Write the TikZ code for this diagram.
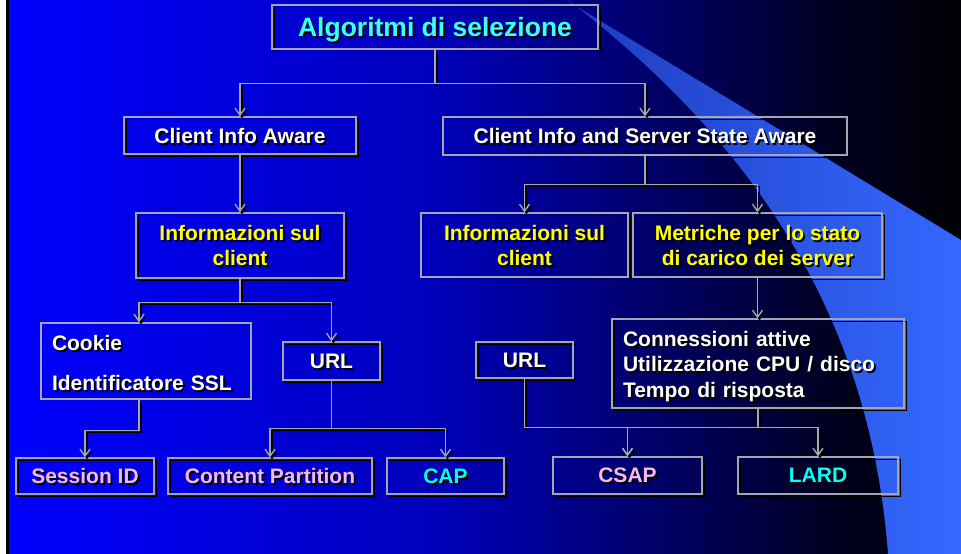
\documentclass[tikz,border=0pt]{standalone}
\usepackage{fontspec}
\setmainfont{Liberation Sans}
\usetikzlibrary{arrows.meta,calc}

\definecolor{wire}{RGB}{165,165,178}
\definecolor{ttl}{RGB}{60,255,255}
\definecolor{hl}{RGB}{255,255,0}
\definecolor{pk}{RGB}{245,185,245}
\definecolor{cy}{RGB}{0,255,255}
\definecolor{swL}{RGB}{30,60,190}
\definecolor{swR}{RGB}{52,104,255}

% background: bright blue on the left fading to black on the right
\pgfdeclarehorizontalshading{bgshade}{100bp}{rgb(0bp)=(0,0,1); rgb(25bp)=(0,0,1);
  rgb(47.5bp)=(0,0,0.73); rgb(57.5bp)=(0,0,0.45); rgb(68.5bp)=(0,0,0.12);
  rgb(75bp)=(0,0,0.02); rgb(100bp)=(0,0,0.02)}

% text with a black drop shadow
\newcommand\shtxt[2]{\leavevmode\rlap{\kern1.9pt\raisebox{-1.9pt}{\color{black}#2}}{\color{#1}#2}}

\begin{document}
\begin{tikzpicture}[x=1pt,y=-1pt,
  box/.style={draw=wire, line width=1.3pt, inner sep=0pt, text depth=0pt,
    font=\bfseries\fontsize{21}{25}\selectfont,
    preaction={draw=black, line width=1.7pt,
      transform canvas={xshift=2.5pt,yshift=-2.5pt}}},
  arr/.style={-{Straight Barb[length=7pt,width=10pt,line width=1.4pt]}}]

\useasboundingbox (0,0) rectangle (961,554);

% page background
\fill[white] (0,0) rectangle (961,554);
\fill[black] (6,0) rectangle (9,554);
\shade[shading=bgshade] (9,0) rectangle (961,554);

% light blue sweep on the right
\shade[left color=swL, right color=swR]
  (566,0) -- (961,240) -- (961,554) -- (888,554)
  .. controls (872,340) and (775,160) .. (572,3) -- cycle;

% boxes
\node[box, minimum width=326pt, minimum height=44pt,
      font=\bfseries\fontsize{26.5}{30}\selectfont] (t) at (435,27)
  {\shtxt{ttl}{Algoritmi di selezione}};

\node[box, minimum width=232pt, minimum height=37pt] (cia) at (240,135.5)
  {\shtxt{white}{Client Info Aware}};
\node[box, minimum width=404pt, minimum height=38pt] (ciss) at (645,136)
  {\shtxt{white}{Client Info and Server State Aware}};

\node[box, minimum width=208pt, minimum height=65pt, align=center] (il) at (240,245.5)
  {\shtxt{hl}{Informazioni sul}\\\shtxt{hl}{client}};
\node[box, minimum width=207pt, minimum height=64pt, align=center] (ir) at (524.5,245)
  {\shtxt{hl}{Informazioni sul}\\\shtxt{hl}{client}};
\node[box, minimum width=249pt, minimum height=64pt, align=center] (met) at (757.5,245)
  {\shtxt{hl}{Metriche per lo stato}\\\shtxt{hl}{di carico dei server}};

% left-aligned lists: depth spans from the first to the last baseline
\node[box, minimum width=210pt, minimum height=76pt, align=left, text width=188pt,
      text depth=36pt] (ck) at (146,361)
  {\shtxt{white}{Cookie}\\[15pt]\shtxt{white}{Identificatore SSL}};
\node[box, minimum width=97pt, minimum height=38pt] (ul) at (331.5,361)
  {\shtxt{white}{URL}};
\node[box, minimum width=97pt, minimum height=36pt] (ur) at (524.5,360)
  {\shtxt{white}{URL}};
\node[box, minimum width=292pt, minimum height=89pt, align=left, text width=270pt,
      text depth=50pt] (cn) at (758,363.5)
  {\shtxt{white}{Connessioni attive}\\[0.5pt]\shtxt{white}{Utilizzazione CPU / disco}\\[0.5pt]\shtxt{white}{Tempo di risposta}};

\node[box, minimum width=138pt, minimum height=36pt] (sid) at (85,476)
  {\shtxt{pk}{Session ID}};
\node[box, minimum width=204pt, minimum height=36pt] (cp) at (270,476)
  {\shtxt{pk}{Content Partition}};
\node[box, minimum width=117pt, minimum height=36pt] (cap) at (445.5,476)
  {\shtxt{cy}{CAP}};
\node[box, minimum width=149pt, minimum height=37pt] (csap) at (627.5,475.5)
  {\shtxt{pk}{CSAP}};
\node[box, minimum width=160pt, minimum height=37pt] (lard) at (818,475.5)
  {\shtxt{cy}{LARD}};

% connectors: black shadow pass, then grey pass
\foreach \cc/\dd in {black/2,wire/0}{
\begin{scope}[transform canvas={xshift=\dd pt,yshift=-\dd pt},
              draw=\cc, line width=1.5pt]
  \draw (t.south) -- ++(0,34) coordinate (j1);
  \draw[arr] (j1) -| (cia.north);
  \draw[arr] (j1) -| (ciss.north);

  \draw[arr] (cia.south) -- (il.north);

  \draw (ciss.south) -- ++(0,29) coordinate (j2);
  \draw[arr] (j2) -| (ir.north);
  \draw[arr] (j2) -| (met.north);

  \draw (il.south) -- ++(0,24) coordinate (j3);
  \draw[arr] (j3) -| ([xshift=-7pt]ck.north);
  \draw[arr] (j3) -| (ul.north);

  \draw ([xshift=-7pt]ck.south) -- ++(0,31) coordinate (j4);
  \draw[arr] (j4) -| (sid.north);

  \draw (ul.south) -- ++(0,48) coordinate (j5);
  \draw[arr] (j5) -| (cp.north);
  \draw[arr] (j5) -| (cap.north);

  \draw[arr] (met.south) -- (met.south |- cn.north);

  \draw (ur.south) -- ++(0,49) coordinate (j6);
  \draw[arr] (j6) -| (csap.north);
  \draw (cn.south) -- ++(0,19) coordinate (j7);
  \draw[arr] (j7) -| (csap.north);
  \draw[arr] (j7) -| (lard.north);
\end{scope}
}
\end{tikzpicture}
\end{document}
